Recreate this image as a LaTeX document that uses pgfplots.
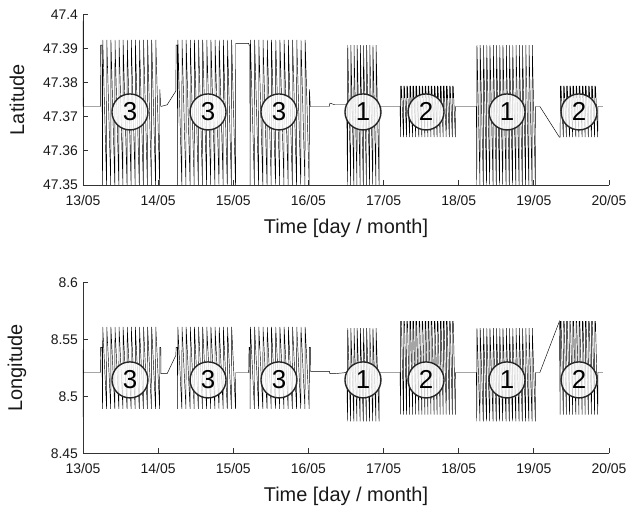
\documentclass[border=0pt]{standalone}
\usepackage{fontspec}
\setmainfont{Liberation Sans}
\usepackage{pgfplots}
\usepackage{pgfplotstable}
\pgfplotsset{compat=1.18}
\pgfplotstableread{
x lat lon
0.000 47.373 8.482
0.001 47.398 8.541
0.004 47.373 8.521
0.230 47.373 8.521
0.235 47.391 8.543
0.252 47.391 8.543
0.260 47.350 8.489
0.263 47.3925 8.561
0.314 47.350 8.489
0.317 47.3925 8.561
0.369 47.350 8.489
0.372 47.3925 8.561
0.423 47.350 8.489
0.426 47.3925 8.561
0.477 47.350 8.489
0.480 47.3925 8.561
0.531 47.350 8.489
0.534 47.3925 8.561
0.586 47.350 8.489
0.589 47.3925 8.561
0.640 47.350 8.489
0.643 47.3925 8.561
0.694 47.350 8.489
0.697 47.3925 8.561
0.749 47.350 8.489
0.752 47.3925 8.561
0.803 47.350 8.489
0.806 47.3925 8.561
0.857 47.350 8.489
0.860 47.3925 8.561
0.911 47.350 8.489
0.914 47.3925 8.561
0.966 47.350 8.489
0.969 47.3925 8.561
1.020 47.350 8.489
1.022 47.378 8.543
1.035 47.373 8.543
1.037 47.373 8.520
1.120 47.3735 8.520
1.235 47.3775 8.536
1.240 47.391 8.543
1.255 47.391 8.543
1.260 47.350 8.489
1.263 47.3925 8.561
1.315 47.350 8.489
1.318 47.3925 8.561
1.370 47.350 8.489
1.373 47.3925 8.561
1.425 47.350 8.489
1.428 47.3925 8.561
1.480 47.350 8.489
1.483 47.3925 8.561
1.535 47.350 8.489
1.538 47.3925 8.561
1.590 47.350 8.489
1.593 47.3925 8.561
1.645 47.350 8.489
1.648 47.3925 8.561
1.700 47.350 8.489
1.703 47.3925 8.561
1.755 47.350 8.489
1.758 47.3925 8.561
1.810 47.350 8.489
1.813 47.3925 8.561
1.865 47.350 8.489
1.868 47.3925 8.561
1.920 47.350 8.489
1.923 47.3925 8.561
1.975 47.350 8.489
1.978 47.3925 8.561
2.030 47.350 8.489
2.033 47.3915 8.521
2.205 47.3915 8.521
2.210 47.391 8.543
2.220 47.391 8.543
2.225 47.350 8.489
2.228 47.3925 8.561
2.281 47.350 8.489
2.284 47.3925 8.561
2.337 47.350 8.489
2.340 47.3925 8.561
2.393 47.350 8.489
2.396 47.3925 8.561
2.449 47.350 8.489
2.452 47.3925 8.561
2.505 47.350 8.489
2.508 47.3925 8.561
2.562 47.350 8.489
2.565 47.3925 8.561
2.618 47.350 8.489
2.621 47.3925 8.561
2.674 47.350 8.489
2.677 47.3925 8.561
2.730 47.350 8.489
2.733 47.3925 8.561
2.786 47.350 8.489
2.789 47.3925 8.561
2.842 47.350 8.489
2.845 47.3925 8.561
2.898 47.350 8.489
2.901 47.3925 8.561
2.954 47.350 8.489
2.957 47.3925 8.561
3.010 47.350 8.489
3.013 47.378 8.543
3.025 47.373 8.543
3.028 47.373 8.522
3.280 47.373 8.522
3.285 47.374 8.520
3.350 47.3735 8.520
3.510 47.3735 8.521
3.520 47.350 8.478
3.523 47.391 8.560
3.562 47.350 8.478
3.565 47.391 8.560
3.604 47.350 8.478
3.607 47.391 8.560
3.646 47.350 8.478
3.649 47.391 8.560
3.688 47.350 8.478
3.691 47.391 8.560
3.730 47.350 8.478
3.733 47.391 8.560
3.772 47.350 8.478
3.775 47.391 8.560
3.814 47.350 8.478
3.817 47.391 8.560
3.856 47.350 8.478
3.859 47.391 8.560
3.898 47.350 8.478
3.901 47.391 8.560
3.940 47.350 8.478
3.943 47.373 8.521
4.220 47.373 8.521
4.225 47.364 8.484
4.228 47.379 8.566
4.233 47.3755 8.566
4.237 47.379 8.566
4.266 47.364 8.484
4.269 47.379 8.566
4.274 47.3755 8.566
4.278 47.379 8.566
4.306 47.364 8.484
4.309 47.379 8.566
4.314 47.3755 8.566
4.318 47.379 8.566
4.347 47.364 8.484
4.350 47.379 8.566
4.355 47.3755 8.566
4.359 47.379 8.566
4.387 47.364 8.484
4.390 47.379 8.566
4.395 47.3755 8.566
4.399 47.379 8.566
4.428 47.364 8.484
4.431 47.379 8.566
4.436 47.3755 8.566
4.440 47.379 8.566
4.469 47.364 8.484
4.472 47.379 8.566
4.477 47.3755 8.566
4.481 47.379 8.566
4.509 47.364 8.484
4.512 47.379 8.566
4.517 47.3755 8.566
4.521 47.379 8.566
4.550 47.364 8.484
4.553 47.379 8.566
4.558 47.3755 8.566
4.562 47.379 8.566
4.590 47.364 8.484
4.593 47.379 8.566
4.598 47.3755 8.566
4.602 47.379 8.566
4.631 47.364 8.484
4.634 47.379 8.566
4.639 47.3755 8.566
4.643 47.379 8.566
4.672 47.364 8.484
4.675 47.379 8.566
4.680 47.3755 8.566
4.684 47.379 8.566
4.712 47.364 8.484
4.715 47.379 8.566
4.720 47.3755 8.566
4.724 47.379 8.566
4.753 47.364 8.484
4.756 47.379 8.566
4.761 47.3755 8.566
4.765 47.379 8.566
4.793 47.364 8.484
4.796 47.379 8.566
4.801 47.3755 8.566
4.805 47.379 8.566
4.834 47.364 8.484
4.837 47.379 8.566
4.842 47.3755 8.566
4.846 47.379 8.566
4.875 47.364 8.484
4.878 47.379 8.566
4.883 47.3755 8.566
4.887 47.379 8.566
4.915 47.364 8.484
4.918 47.379 8.566
4.923 47.3755 8.566
4.927 47.379 8.566
4.955 47.364 8.484
4.958 47.373 8.521
5.235 47.373 8.521
5.240 47.350 8.478
5.243 47.391 8.560
5.283 47.350 8.478
5.286 47.391 8.560
5.327 47.350 8.478
5.330 47.391 8.560
5.370 47.350 8.478
5.373 47.391 8.560
5.413 47.350 8.478
5.416 47.391 8.560
5.457 47.350 8.478
5.460 47.391 8.560
5.500 47.350 8.478
5.503 47.391 8.560
5.543 47.350 8.478
5.546 47.391 8.560
5.586 47.350 8.478
5.589 47.391 8.560
5.630 47.350 8.478
5.633 47.391 8.560
5.673 47.350 8.478
5.676 47.391 8.560
5.716 47.350 8.478
5.719 47.391 8.560
5.760 47.350 8.478
5.763 47.391 8.560
5.803 47.350 8.478
5.806 47.391 8.560
5.846 47.350 8.478
5.849 47.391 8.560
5.890 47.350 8.478
5.893 47.391 8.560
5.933 47.350 8.478
5.936 47.391 8.560
5.976 47.350 8.478
5.979 47.391 8.560
6.020 47.350 8.478
6.023 47.373 8.521
6.080 47.373 8.521
6.340 47.364 8.566
6.350 47.364 8.484
6.353 47.379 8.566
6.358 47.3755 8.566
6.362 47.379 8.566
6.392 47.364 8.484
6.395 47.379 8.566
6.400 47.3755 8.566
6.404 47.379 8.566
6.433 47.364 8.484
6.436 47.379 8.566
6.441 47.3755 8.566
6.445 47.379 8.566
6.475 47.364 8.484
6.478 47.379 8.566
6.483 47.3755 8.566
6.487 47.379 8.566
6.517 47.364 8.484
6.520 47.379 8.566
6.525 47.3755 8.566
6.529 47.379 8.566
6.558 47.364 8.484
6.561 47.379 8.566
6.566 47.3755 8.566
6.570 47.379 8.566
6.600 47.364 8.484
6.603 47.379 8.566
6.608 47.3755 8.566
6.612 47.379 8.566
6.642 47.364 8.484
6.645 47.379 8.566
6.650 47.3755 8.566
6.654 47.379 8.566
6.683 47.364 8.484
6.686 47.379 8.566
6.691 47.3755 8.566
6.695 47.379 8.566
6.725 47.364 8.484
6.728 47.379 8.566
6.733 47.3755 8.566
6.737 47.379 8.566
6.767 47.364 8.484
6.770 47.379 8.566
6.775 47.3755 8.566
6.779 47.379 8.566
6.808 47.364 8.484
6.811 47.379 8.566
6.816 47.3755 8.566
6.820 47.379 8.566
6.850 47.364 8.484
6.853 47.373 8.521
6.920 47.373 8.521
}\track

\tikzset{circ/.style={circle, draw=black!85, line width=1.4pt, fill=white, fill opacity=0.8, text opacity=1, minimum size=36bp, inner sep=0pt, font=\fontsize{26}{28}\selectfont}}
\pgfplotsset{
  myaxis/.style={
    scale only axis, width=526bp, height=170.7bp,
    xmin=0, xmax=7,
    axis x line*=bottom, axis y line*=left,
    axis line style={-, draw=black!80, line width=0.8pt},
    tick align=inside, major tick length=5bp,
    tick style={black!80, line width=0.8pt},
    xtick={0,1,2,3,4,5,6,7},
    xticklabels={13/05,14/05,15/05,16/05,17/05,18/05,19/05,20/05},
    ticklabel style={font=\fontsize{14}{16}\selectfont, text=black!90},
    xticklabel style={yshift=-7bp},
    yticklabel style={xshift=-1.5bp},
    label style={font=\fontsize{20}{24}\selectfont, text=black!90},
    xlabel={Time [day / month]},
    xlabel style={at={(axis description cs:0.5,0)}, anchor=center, yshift=-43bp},
    ylabel style={at={(axis description cs:-0.1255,0.5)}, anchor=center},
  },
}
\begin{document}
\begin{tikzpicture}
\useasboundingbox (-83bp,-324bp) rectangle (545bp,185bp);
\begin{axis}[myaxis,
  ymin=47.35, ymax=47.4,
  ytick={47.35,47.36,47.37,47.38,47.39,47.4},
  yticklabels={47.35,47.36,47.37,47.38,47.39,47.4},
  ylabel={Latitude}]
\addplot[black, line width=0.45pt, sharp plot, no marks] table[x=x, y=lat] {\track};
\node[circ] at (axis cs:0.625,47.3714) {3};
\node[circ] at (axis cs:1.664,47.3714) {3};
\node[circ] at (axis cs:2.608,47.3714) {3};
\node[circ] at (axis cs:3.726,47.3714) {1};
\node[circ] at (axis cs:4.565,47.3714) {2};
\node[circ] at (axis cs:5.643,47.3714) {1};
\node[circ] at (axis cs:6.601,47.3714) {2};
\end{axis}
\begin{axis}[myaxis, at={(0,-268.3bp)},
  ymin=8.45, ymax=8.6,
  ytick={8.45,8.5,8.55,8.6},
  yticklabels={8.45,8.5,8.55,8.6},
  ylabel={Longitude}]
\addplot[black, line width=0.45pt, sharp plot, no marks] table[x=x, y=lon] {\track};
\node[circ] at (axis cs:0.625,8.5145) {3};
\node[circ] at (axis cs:1.664,8.5145) {3};
\node[circ] at (axis cs:2.608,8.5145) {3};
\node[circ] at (axis cs:3.726,8.5145) {1};
\node[circ] at (axis cs:4.565,8.5145) {2};
\node[circ] at (axis cs:5.643,8.5145) {1};
\node[circ] at (axis cs:6.601,8.5145) {2};
\end{axis}
\end{tikzpicture}
\end{document}
